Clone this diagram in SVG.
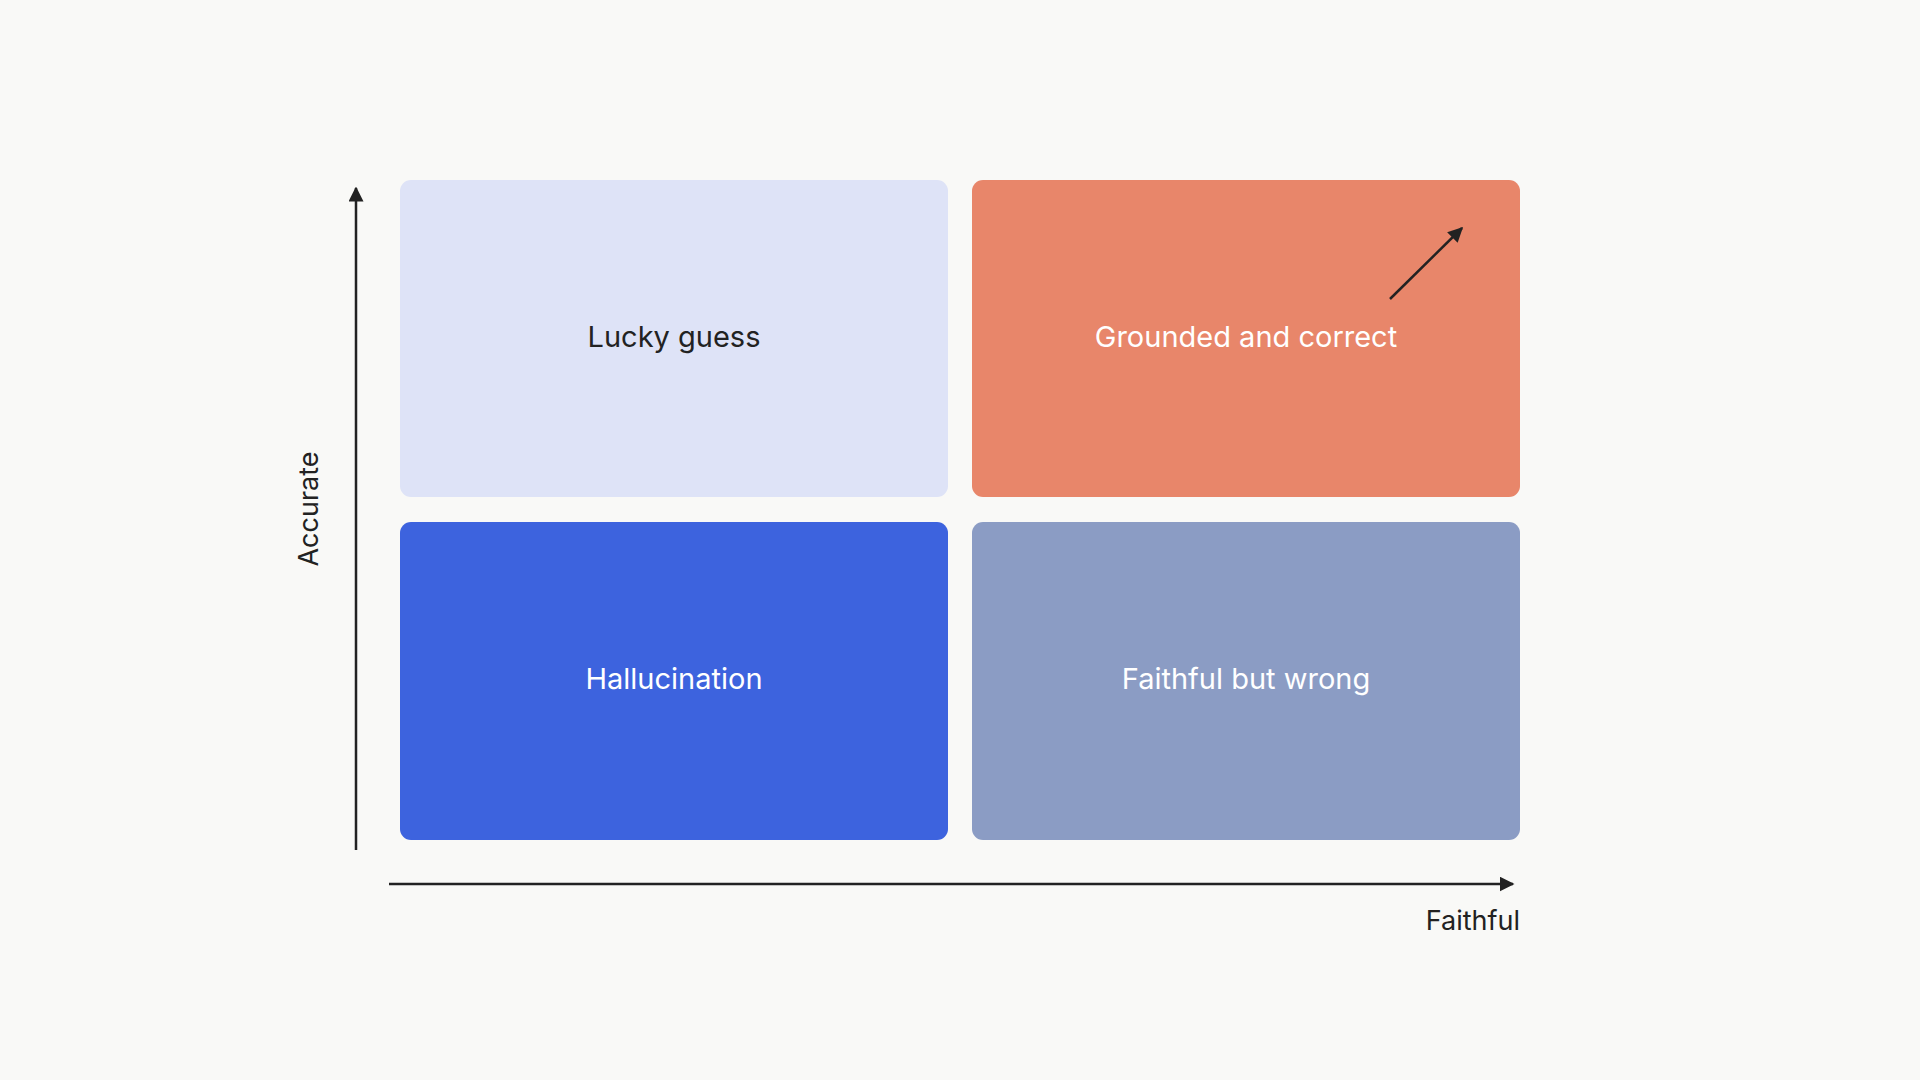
<svg xmlns="http://www.w3.org/2000/svg" width="1920" height="1080" viewBox="0 0 1920 1080">
<defs>
<style>
.box{rx:11px}
.lbl{font-family:Inter,"Liberation Sans",sans-serif;font-size:29px;text-anchor:middle;dominant-baseline:middle}
.ax{font-family:Inter,"Liberation Sans",sans-serif;font-size:27px;fill:#222}
.line{stroke:#222;stroke-width:2.5;fill:none}
</style>
<marker id="ah" viewBox="0 0 10 10" refX="9" refY="5" markerWidth="6" markerHeight="6" orient="auto"><path d="M0,0 L10,5 L0,10 z" fill="#222"/></marker>
</defs>
<rect width="1920" height="1080" fill="#f9f9f7"/>
<g id="lucky"><rect class="box" x="400" y="180" width="548" height="317" fill="#dee3f7"/><text class="lbl" x="674" y="339" fill="#222">Lucky guess</text></g>
<g id="grounded"><rect class="box" x="972" y="180" width="548" height="317" fill="#e8866a"/><text class="lbl" x="1246" y="339" fill="#fff">Grounded and correct</text></g>
<g id="halluc"><rect class="box" x="400" y="522" width="548" height="318" fill="#3d63de"/><text class="lbl" x="674" y="681" fill="#fff">Hallucination</text></g>
<g id="faithwrong"><rect class="box" x="972" y="522" width="548" height="318" fill="#8b9cc4"/><text class="lbl" x="1246" y="681" fill="#fff">Faithful but wrong</text></g>
<g id="connectors">
<line class="line" x1="356" y1="850" x2="356" y2="188" marker-end="url(#ah)"/>
<line class="line" x1="389" y1="884" x2="1513" y2="884" marker-end="url(#ah)"/>
<line class="line" x1="1390" y1="299" x2="1462" y2="228" marker-end="url(#ah)"/>
</g>
<text class="ax" x="1520" y="930" text-anchor="end">Faithful</text>
<text class="ax" transform="translate(318,509) rotate(-90)" text-anchor="middle">Accurate</text>
</svg>
